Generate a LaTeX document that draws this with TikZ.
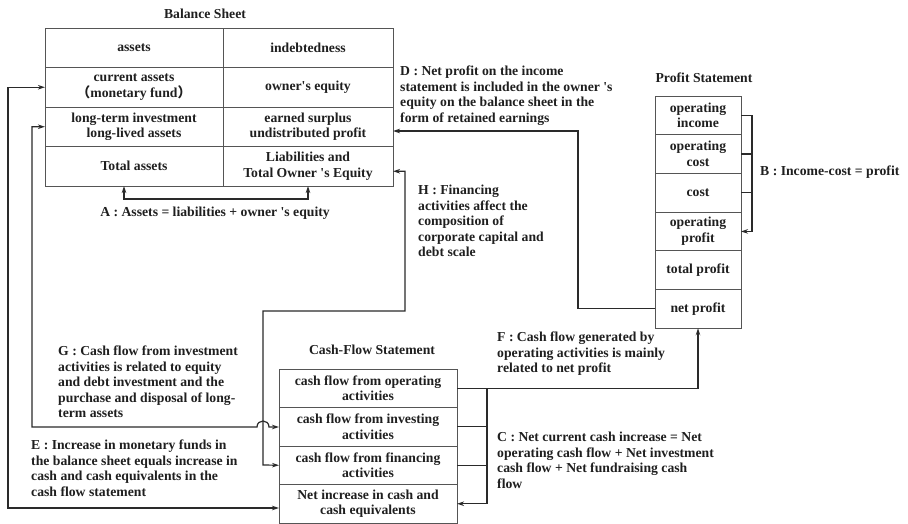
\documentclass[tikz,border=0pt]{standalone}
\usepackage{fontspec}
\setmainfont{Liberation Serif}[Ligatures=TeXOff]
\newfontfamily\cjkfont{Noto Sans CJK SC}
\usetikzlibrary{arrows.meta,positioning}

\definecolor{boxline}{HTML}{555555}
\definecolor{linkline}{HTML}{2A2A2A}

\begin{document}
\begin{tikzpicture}[x=1pt,y=-1pt,
          every node/.style={font=\bfseries\fontsize{13.7}{15.5}\selectfont, text=black!88},
          cell/.style={rectangle, draw=boxline, line width=0.9pt, outer sep=0pt, inner sep=1pt, align=center, minimum height=39.5pt},
          pcell/.style={cell, minimum width=86pt, minimum height=38.7pt},
          ccell/.style={cell, minimum width=178pt, minimum height=38.5pt},
          title/.style={inner sep=0pt},
          note/.style={align=left, inner sep=0pt, anchor=north west},
          link/.style={draw=linkline, line width=1.2pt, >={Stealth[length=7pt,width=4.5pt]}}]
          \useasboundingbox (0,0) rectangle (908,524);

          % balance sheet
          \node[title] (bstitle) at (205,14) {Balance Sheet};
          \node[cell, minimum width=178pt, anchor=north west] (bs11) at (45,28) {assets};
          \node[cell, minimum width=170pt, right=0pt of bs11] (bs12) {indebtedness};
          \node[cell, minimum width=178pt, below=0pt of bs11] (bs21) {current assets\\{\cjkfont （}monetary fund{\cjkfont ）}};
          \node[cell, minimum width=170pt, below=0pt of bs12] (bs22) {owner's equity};
          \node[cell, minimum width=178pt, below=0pt of bs21] (bs31) {long-term investment\\long-lived assets};
          \node[cell, minimum width=170pt, below=0pt of bs22] (bs32) {earned surplus\\undistributed profit};
          \node[cell, minimum width=178pt, below=0pt of bs31] (bs41) {Total assets};
          \node[cell, minimum width=170pt, below=0pt of bs32] (bs42) {Liabilities and\\Total Owner 's Equity};

          % profit statement
          \node[title] (pstitle) at (704,78) {Profit Statement};
          \node[pcell, anchor=north west] (ps1) at (655,96) {operating\\income};
          \node[pcell, below=0pt of ps1] (ps2) {operating\\cost};
          \node[pcell, below=0pt of ps2] (ps3) {cost};
          \node[pcell, below=0pt of ps3] (ps4) {operating\\profit};
          \node[pcell, below=0pt of ps4] (ps5) {total profit};
          \node[pcell, below=0pt of ps5] (ps6) {net profit};

          % cash flow statement
          \node[title] (cftitle) at (372,350) {Cash-Flow Statement};
          \node[ccell, anchor=north west] (cf1) at (279,369) {cash flow from operating\\activities};
          \node[ccell, below=0pt of cf1] (cf2) {cash flow from investing\\activities};
          \node[ccell, below=0pt of cf2] (cf3) {cash flow from financing\\activities};
          \node[ccell, below=0pt of cf3] (cf4) {Net increase in cash and\\cash equivalents};

          % texts
          \node (tA) at (215,213) {A : Assets = liabilities + owner 's equity};
          \node[anchor=west, inner sep=0pt] (tB) at (760,172) {B : Income-cost = profit};
          \node[note] (tC) at (497,432) {C : Net current cash increase = Net\\operating cash flow + Net investment\\cash flow + Net fundraising cash\\flow};
          \node[note] (tD) at (400,66) {D : Net profit on the income\\statement is included in the owner 's\\equity on the balance sheet in the\\form of retained earnings};
          \node[note] (tE) at (31,440) {E : Increase in monetary funds in\\the balance sheet equals increase in\\cash and cash equivalents in the\\cash flow statement};
          \node[note] (tF) at (497,332) {F : Cash flow generated by\\operating activities is mainly\\related to net profit};
          \node[note] (tG) at (58,346) {G : Cash flow from investment\\activities is related to equity\\and debt investment and the\\purchase and disposal of long-\\term assets};
          \node[note] (tH) at (418,185) {H : Financing\\activities affect the\\composition of\\corporate capital and\\debt scale};

          % turning points
          \coordinate (dturn) at (578,131);
          \coordinate (hturn) at (405,311);
          \coordinate (hdown) at (263,465);
          \coordinate (gturn) at (32,427);
          \coordinate (eturn) at (8,508);

          % A
          \draw[link, <->] ([xshift=-10pt]bs41.south) -- ++(0,13) -| (bs42.south);
          % B
          \draw[link, ->] (ps1.east) -- ++(11,0) |- (ps4.east);
          \draw[link] (ps2.east) -- ++(11,0);
          \draw[link] (ps3.east) -- ++(11,0);
          % C
          \draw[link, ->] (cf1.east) -- ++(30,0) |- (cf4.east);
          \draw[link] (cf2.east) -- ++(30,0);
          \draw[link] (cf3.east) -- ++(30,0);
          % D
          \draw[link, ->] (ps6.west) -| (dturn) -- (dturn -| bs32.east);
          % E
          \draw[link, <->] (bs21.west) -| (eturn) -- (eturn -| cf4.west);
          % F
          \draw[link, ->] (cf1.east) -| (ps6.south);
          % G
          \draw[link, <->] (bs31.west) -| (gturn) -- (257,427) .. controls (257,419) and (269,419) .. (269,427) -- (gturn -| cf2.west);
          % H
          \draw[link, <->] ([yshift=-5pt]bs42.east) -| (hturn) -| (hdown) -- (cf3.west);
\end{tikzpicture}
\end{document}
